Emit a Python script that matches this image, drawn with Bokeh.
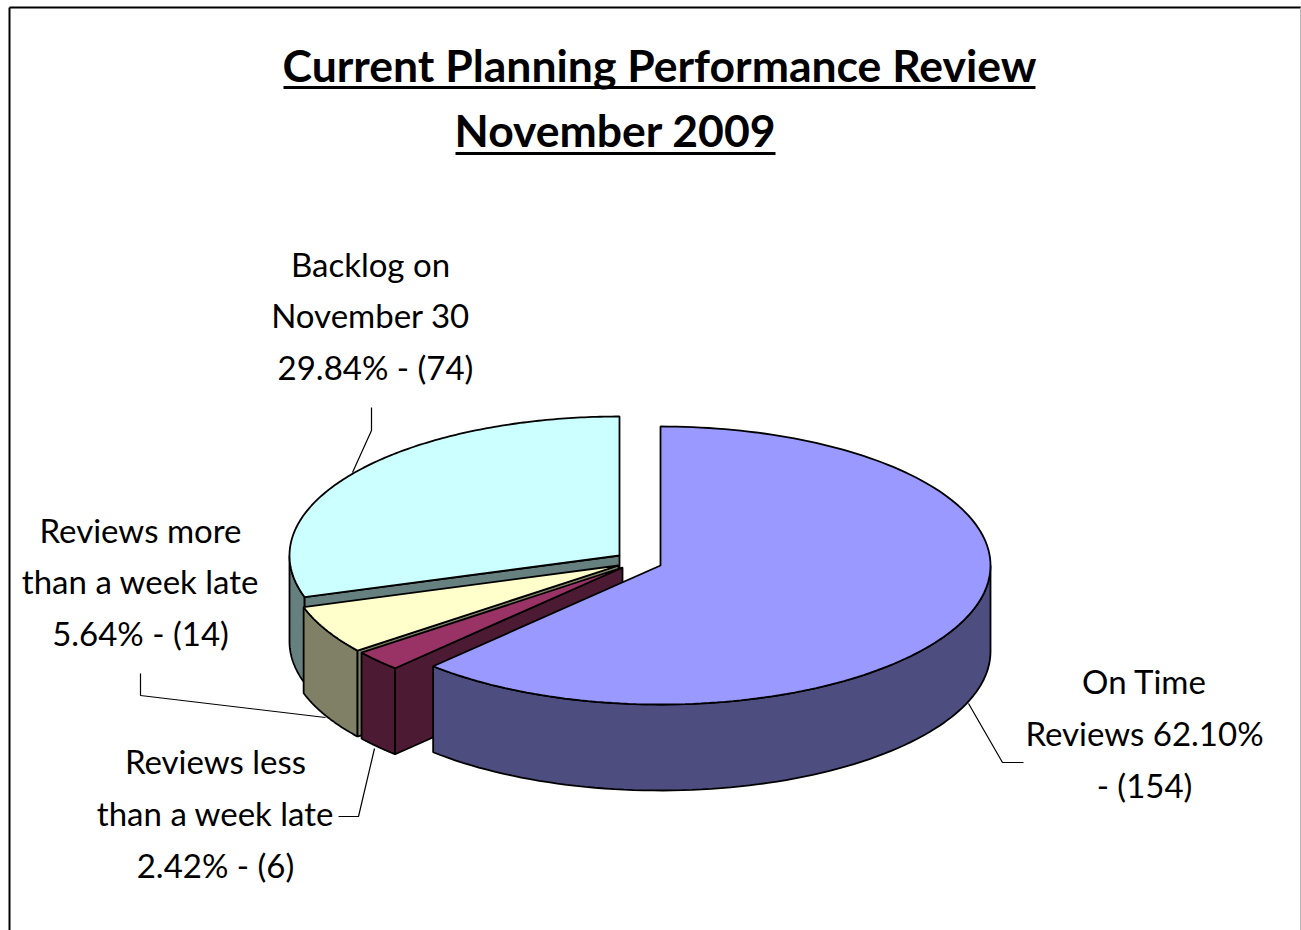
from bokeh.plotting import figure
from bokeh.models import Range1d
from bokeh.core.properties import value
from bokeh.embed import file_html
from bokeh.resources import INLINE
import numpy as np

# ---- data
names = ["On Time Reviews", "Reviews less than a week late", "Reviews more than a week late", "Backlog on November 30"]
counts = [154, 6, 14, 74]
top_colors = ["#9999ff", "#993366", "#ffffcc", "#ccffff"]
side_colors = ["#4d4d80", "#4d1a33", "#808066", "#668080"]
title_lines = ["Current Planning Performance Review", "November 2009"]
label_lines = ["Backlog on", "November 30", "29.84% - (74)",
               "Reviews more", "than a week late", "5.64% - (14)",
               "Reviews less", "than a week late", "2.42% - (6)",
               "On Time", "Reviews 62.10%", "- (154)"]

# ---- layout (pixels)
FONT = "Lato"
W, H = 1301, 930
apex = [(660, 565), (622, 567), (618, 565), (619, 555)]
RX, RY, DEPTH = 330, 139, 86
label_x = [370, 370, 375, 140, 140, 140, 215, 215, 215, 1144, 1144, 1144]
label_y = [263, 314, 366, 529, 580, 632, 760, 812, 864, 680, 732, 784]
title_x = [659, 615]
title_y = [64, 129]
rule_x0 = [283, 455]
rule_x1 = [1035, 775]
rule_y = [87, 153]
leaders = [([371, 371, 352], [407, 430, 472]),
           ([140, 140, 325], [673, 695, 717]),
           ([338, 358, 374], [816, 816, 748]),
           ([968, 1002, 1023], [703, 762, 762])]

p = figure(width=W, height=H, x_range=Range1d(0, W), y_range=Range1d(H, 0),
           output_backend="svg", toolbar_location=None, min_border=0)
p.axis.visible = False
p.grid.visible = False
p.outline_line_color = None


def ell(c, deg):
    a = np.radians(np.asarray(deg, dtype=float))
    return c[0] + RX * np.sin(a), c[1] - RY * np.cos(a)


def poly(x, y, color):
    p.patch(list(x), list(y), fill_color=color, line_color="black", line_width=1.8)


total = sum(counts)
bounds = np.concatenate([[0], np.cumsum(counts) / total * 360])
# painter's order: back slice first, the large front slice last
for i in [3, 2, 1, 0]:
    a0, a1 = bounds[i], bounds[i + 1]
    c = apex[i]
    # outer wall (only the part of the rim on the near half of the ellipse)
    lo, hi = max(a0, 90), min(a1, 270)
    if hi > lo:
        t = np.linspace(lo, hi, 80)
        x, y = ell(c, t)
        poly(np.r_[x, x[::-1]], np.r_[y, y[::-1] + DEPTH], side_colors[i])
    # cut wall facing the viewer, along the radius at the slice's first edge
    if i != 0:
        ex, ey = ell(c, [a0])
        poly([c[0], ex[0], ex[0], c[0]], [c[1], ey[0], ey[0] + DEPTH, c[1] + DEPTH], side_colors[i])
    # top
    t = np.linspace(a0, a1, 160)
    x, y = ell(c, t)
    poly(np.r_[c[0], x], np.r_[c[1], y], top_colors[i])

# leaders
for lx, ly in leaders:
    p.line(lx, ly, line_color="black", line_width=1.2)

# labels
p.text(label_x, label_y, text=label_lines, text_font=value(FONT), text_font_size="33px",
       text_align="center", text_baseline="middle", text_color="black")

# title
p.text(title_x, title_y, text=title_lines, text_font=value(FONT), text_font_size="44.5px", text_font_style="bold",
       text_align="center", text_baseline="middle", text_color="black")
p.segment(rule_x0, rule_y, rule_x1, rule_y, line_color="black", line_width=3)

# frame
p.segment([9, 9], [7, 7], [9, W], [H, 7], line_color="black", line_width=2)
p.segment([1300], [7], [1300], [H], line_color="#b8b8b8", line_width=1)

open("out.html", "w").write(file_html(p, INLINE))
